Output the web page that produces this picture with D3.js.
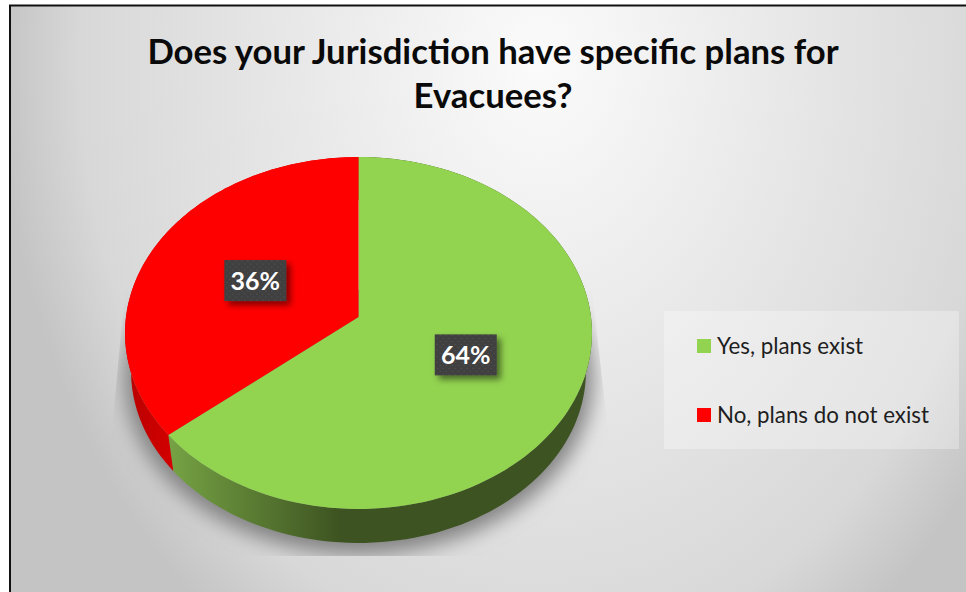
<!DOCTYPE html>
<html>
<head>
<meta charset="utf-8">
<script src="https://cdn.jsdelivr.net/npm/d3@7/dist/d3.min.js"></script>
<style>
html, body { margin: 0; padding: 0; background: #fff; }
svg { display: block; }
</style>
</head>
<body>
<svg id="chart" width="966" height="592"></svg>
<script>
const categories = ["Yes, plans exist", "No, plans do not exist"];
const shares = [64, 36];
const sliceColors = ["#92d350", "#ff0000"];
const titleLines = ["Does your Jurisdiction have specific plans for", "Evacuees?"];

const svg = d3.select("#chart");
const defs = svg.append("defs");

// Chart area backdrop: bright near the title, grey towards the corners
const backdrop = defs.append("radialGradient").attr("id", "backdrop")
  .attr("gradientUnits", "userSpaceOnUse")
  .attr("cx", 0).attr("cy", 0).attr("r", 1)
  .attr("gradientTransform", "translate(540,60) scale(540,700)");
backdrop.append("stop").attr("offset", 0).attr("stop-color", "#fbfbfb");
backdrop.append("stop").attr("offset", 0.5).attr("stop-color", "#e6e6e6");
backdrop.append("stop").attr("offset", 0.85).attr("stop-color", "#d8d8d8");
backdrop.append("stop").attr("offset", 1).attr("stop-color", "#c4c4c4");

const greenSide = defs.append("linearGradient").attr("id", "greenSide")
  .attr("gradientUnits", "userSpaceOnUse").attr("x1", 168).attr("x2", 340).attr("y1", 0).attr("y2", 0);
greenSide.append("stop").attr("offset", 0).attr("stop-color", "#76a344");
greenSide.append("stop").attr("offset", 1).attr("stop-color", "#3d5321");

const redSide = defs.append("linearGradient").attr("id", "redSide")
  .attr("gradientUnits", "userSpaceOnUse").attr("x1", 125).attr("x2", 175).attr("y1", 0).attr("y2", 0);
redSide.append("stop").attr("offset", 0).attr("stop-color", "#b80000");
redSide.append("stop").attr("offset", 1).attr("stop-color", "#d40000");

defs.append("filter").attr("id", "discShadow")
  .attr("x", "-20%").attr("y", "-20%").attr("width", "140%").attr("height", "140%")
  .append("feGaussianBlur").attr("stdDeviation", 10);

const boxShadow = defs.append("filter").attr("id", "boxShadow")
  .attr("x", "-30%").attr("y", "-30%").attr("width", "170%").attr("height", "170%");
boxShadow.append("feDropShadow").attr("dx", 4).attr("dy", 4).attr("stdDeviation", 3)
  .attr("flood-color", "#000").attr("flood-opacity", 0.5);

const dots = defs.append("pattern").attr("id", "dots").attr("patternUnits", "userSpaceOnUse")
  .attr("width", 6).attr("height", 6);
dots.append("rect").attr("width", 6).attr("height", 6).attr("fill", "#3f3f3f");
dots.append("circle").attr("cx", 1.5).attr("cy", 1.5).attr("r", 0.8).attr("fill", "#525252");
dots.append("circle").attr("cx", 4.5).attr("cy", 4.5).attr("r", 0.8).attr("fill", "#525252");

defs.append("clipPath").attr("id", "shadowClip").append("polygon")
  .attr("points", "125,290 592,290 609,440 609,556 111,556 111,440");

// Chart frame
svg.append("rect").attr("x", 10).attr("y", 5.5).attr("width", 970).attr("height", 600)
  .attr("fill", "url(#backdrop)").attr("stroke", "#111").attr("stroke-width", 2);

// Tilted disc: the circle is projected with a slight perspective, so its hub
// sits above the middle of the drawn ellipse.
const hub = { x: 358.5, y: 317 };
const radiusX = 232.5, radiusY = 174.5, tilt = 0.0909;
const depth = { scale: 0.974, drop: 39 };

function project(angle, f = 1, level = 0) {
  const u = Math.sin(angle) * f, v = -Math.cos(angle) * f;
  const w = 1 - tilt * v;
  const s = level ? depth.scale : 1;
  return [hub.x + s * radiusX * u / w, hub.y + (level ? depth.drop : 0) + s * radiusY * v / w];
}

const slices = d3.pie().sort(null)(shares);
const line = d3.line();
const steps = a => d3.range(0, 121).map(i => a.startAngle + (a.endAngle - a.startAngle) * i / 120);

// Soft shadow cast under the disc
const full = d3.range(0, 361, 2).map(d => d * Math.PI / 180);
svg.append("g").attr("clip-path", "url(#shadowClip)")
  .append("path")
  .attr("d", line(full.map(a => project(a, 1.03, 1))) + "Z")
  .attr("transform", "translate(0,5)")
  .attr("fill", "#828282")
  .attr("filter", "url(#discShadow)");

// Rim of each slice
svg.append("g").selectAll("path").data(slices).join("path")
  .attr("d", s => {
    const a = steps(s);
    return line(a.map(t => project(t))) + "L" +
      a.slice().reverse().map(t => project(t, 1, 1).join(",")).join("L") + "Z";
  })
  .attr("fill", (s, i) => i === 0 ? "url(#greenSide)" : "url(#redSide)");

// Top face of each slice
svg.append("g").selectAll("path").data(slices).join("path")
  .attr("d", s => "M" + project(0, 0).join(",") + "L" +
    steps(s).map(t => project(t).join(",")).join("L") + "Z")
  .attr("fill", (s, i) => sliceColors[i]);

// Value labels in dark boxes
const labels = svg.append("g").selectAll("g").data(slices).join("g")
  .attr("transform", s => `translate(${project((s.startAngle + s.endAngle) / 2, 0.5)})`);
labels.append("rect").attr("x", -31).attr("y", -20.5).attr("width", 62).attr("height", 41)
  .attr("fill", "url(#dots)").attr("filter", "url(#boxShadow)");
labels.append("text").attr("text-anchor", "middle").attr("y", 9)
  .attr("font-family", "Lato").attr("font-weight", 700).attr("font-size", 25)
  .attr("fill", "#fff").text(s => s.data + "%");

// Title
svg.append("g").selectAll("text").data(titleLines).join("text")
  .attr("x", 493).attr("y", (d, i) => 64 + i * 44)
  .attr("text-anchor", "middle")
  .attr("font-family", "Lato").attr("font-weight", 700).attr("font-size", 34.7)
  .attr("fill", "#0a0a0a").text(d => d);

// Legend
const legend = svg.append("g");
legend.append("rect").attr("x", 664).attr("y", 311).attr("width", 295).attr("height", 138)
  .attr("fill", "#fff").attr("fill-opacity", 0.3);
const rows = d3.scalePoint().domain(categories).range([346, 415]);
const entries = legend.selectAll("g").data(categories).join("g")
  .attr("transform", d => `translate(697,${rows(d)})`);
entries.append("rect").attr("y", -7).attr("width", 14).attr("height", 14)
  .attr("fill", (d, i) => sliceColors[i]);
entries.append("text").attr("x", 20).attr("y", 7.5)
  .attr("font-family", "Lato").attr("font-size", 22.3).attr("fill", "#1e1e1e").text(d => d);
</script>
</body>
</html>
